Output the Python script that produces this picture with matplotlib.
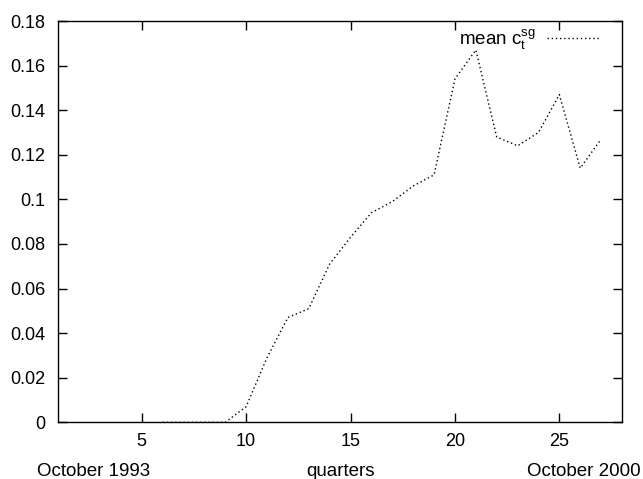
import matplotlib
matplotlib.use("Agg")
import matplotlib.pyplot as plt
from matplotlib.ticker import FuncFormatter

plt.rcParams["font.family"] = ["Liberation Sans", "DejaVu Sans"]
plt.rcParams["mathtext.fontset"] = "custom"
plt.rcParams["mathtext.rm"] = "Liberation Sans"
plt.rcParams["mathtext.it"] = "Liberation Sans"

# quarters and mean c_t^sg
quarters = [6, 7, 8, 9, 10, 11, 12, 13, 14, 15, 16, 17, 18, 19, 20, 21, 22, 23, 24, 25, 26, 27]
mean_csg = [0.0, 0.0, 0.0, 0.0, 0.007, 0.029, 0.047, 0.051, 0.071, 0.083, 0.094, 0.099,
            0.106, 0.111, 0.154, 0.167, 0.128, 0.124, 0.130, 0.147, 0.114, 0.127]
xticks = [5, 10, 15, 20, 25]
yticks = [0, 0.02, 0.04, 0.06, 0.08, 0.1, 0.12, 0.14, 0.16, 0.18]

fig = plt.figure(figsize=(6.43, 4.79), dpi=100)
ax = fig.add_axes([58.2 / 643, 1 - 422.3 / 479, (622 - 58.2) / 643, (422.3 - 21) / 479])

ax.plot(quarters, mean_csg, color="black", lw=1.0, ls=(0, (1, 2)),
        label=r"mean c$_\mathrm{t}^\mathrm{sg}$")

ax.set_xlim(1, 28)
ax.set_ylim(0, 0.18)
ax.set_xticks(xticks)
ax.set_yticks(yticks)
ax.yaxis.set_major_formatter(FuncFormatter(lambda v, p: "%g" % v))
ax.tick_params(direction="in", length=6.3, width=1, top=True, right=True,
               labelsize=13)
ax.tick_params(axis="x", pad=7.5)
ax.tick_params(axis="y", pad=9.5)
for s in ax.spines.values():
    s.set_linewidth(1.0)

ax.legend(loc="upper right", markerfirst=False, frameon=False, fontsize=13.5,
          handlelength=2.84, handletextpad=0.6, borderpad=0, borderaxespad=0,
          bbox_to_anchor=(600 / 643, 1 - 27 / 479), bbox_transform=fig.transFigure)

fig.text(37 / 643, 3 / 479, "October 1993", fontsize=13.5, ha="left", va="baseline")
fig.text(340.5 / 643, 3 / 479, "quarters", fontsize=13.5, ha="center", va="baseline")
fig.text(641 / 643, 3 / 479, "October 2000", fontsize=13.5, ha="right", va="baseline")

fig.savefig("out.png")
